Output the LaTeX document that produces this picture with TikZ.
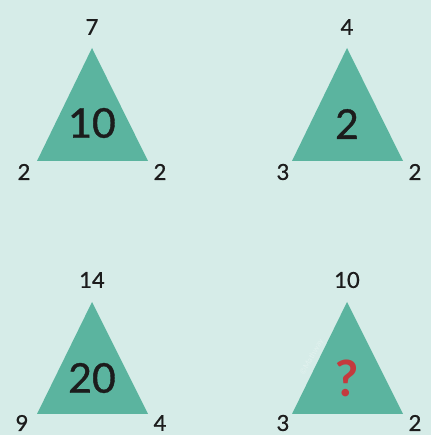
\documentclass[tikz,border=0pt]{standalone}
\usepackage{fontspec}
\setmainfont{Lato}
\newfontfamily\medfont{Lato}[FakeBold=0.9]
\newfontfamily\boldfont{Lato Bold}
\definecolor{bgc}{RGB}{214,236,232}
\definecolor{tri}{RGB}{91,180,159}
\definecolor{ink}{RGB}{28,28,28}
\definecolor{qred}{RGB}{196,58,62}
\begin{document}
\begin{tikzpicture}[x=1pt,y=1pt,
  trishape/.style={fill=tri, draw=none},
  lbl/.style={text=ink, font=\medfont\fontsize{22}{22}\selectfont, inner sep=0pt, anchor=center},
  mid/.style={text=ink, font=\medfont\fontsize{41}{41}\selectfont, inner sep=0pt, anchor=center}]
\fill[bgc] (0,0) rectangle (431,435);
\useasboundingbox (0,0) rectangle (431,435);
% triangle 1
\fill[trishape] (92,387) -- (37,274) -- (148,274) -- cycle;
\node[lbl] (t1a) at (92,408) {7};
\node[lbl] (t1l) at (24,263) {2};
\node[lbl] (t1r) at (160,263) {2};
\node[mid] (t1c) at (92,312) {10};
% triangle 2
\fill[trishape] (347,387) -- (292,274) -- (403,274) -- cycle;
\node[lbl] (t2a) at (347,408) {4};
\node[lbl] (t2l) at (283,263) {3};
\node[lbl] (t2r) at (415,263) {2};
\node[mid] (t2c) at (347,311) {2};
% triangle 3
\fill[trishape] (92,133) -- (37,21) -- (148,21) -- cycle;
\node[lbl] (t3a) at (92,155) {14};
\node[lbl] (t3l) at (22,12) {9};
\node[lbl] (t3r) at (160,12) {4};
\node[mid] (t3c) at (92,57) {20};
% triangle 4
\fill[trishape] (347,133) -- (292,21) -- (403,21) -- cycle;
\node[text=white, text opacity=0.3, font=\fontsize{8}{8}\selectfont, rotate=61, inner sep=0pt] (wmk) at (312,78) {©Mathway};
\node[lbl] (t4a) at (347,155) {10};
\node[lbl] (t4l) at (283,12) {3};
\node[lbl] (t4r) at (415,12) {2};
\node[text=qred, font=\boldfont\fontsize{50}{50}\selectfont, inner sep=0pt] (t4c) at (347,57) {?};
\end{tikzpicture}
\end{document}
